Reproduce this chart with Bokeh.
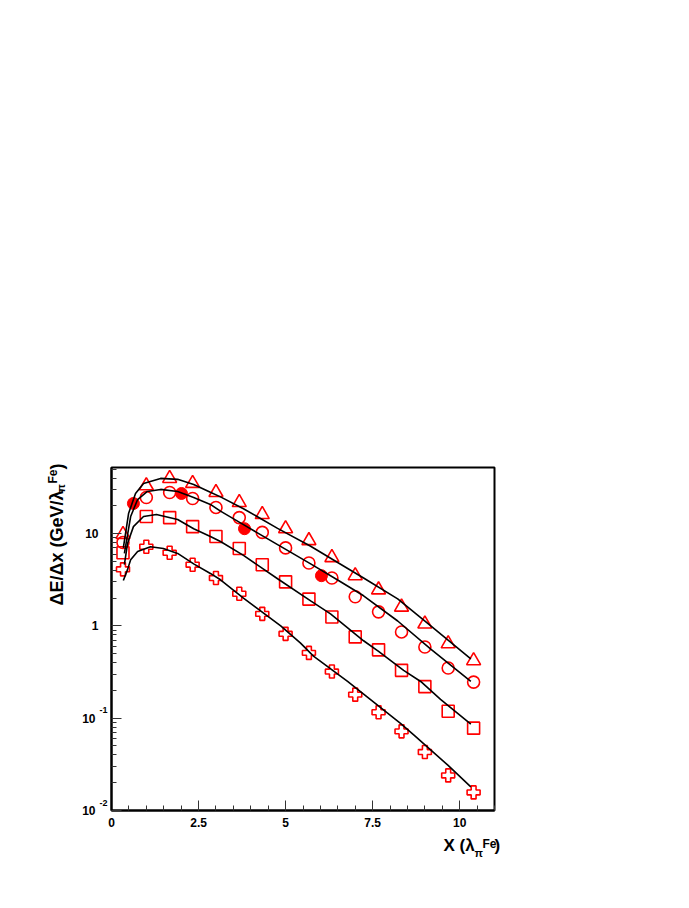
import math
from bokeh.plotting import figure
from bokeh.models import Range1d, FixedTicker, Label
from bokeh.embed import file_html
from bokeh.resources import INLINE

# ---------------- data ----------------
xs = [0.33, 1.0, 1.67, 2.33, 3.0, 3.67, 4.33, 5.0, 5.67, 6.33, 7.0, 7.67, 8.33, 9.0, 9.67, 10.4]
tri = [9.8, 33, 39.6, 35, 27.9, 21.7, 16.1, 11.3, 8.4, 5.5, 3.5, 2.46, 1.6, 1.05, 0.64, 0.42]
circ = [8.0, 24.6, 27.9, 24, 19.2, 14.9, 10.3, 7.0, 4.8, 3.3, 2.07, 1.42, 0.86, 0.59, 0.35, 0.246]
sq = [6.2, 15.3, 14.9, 11.9, 9.3, 6.9, 4.6, 3.0, 1.95, 1.25, 0.76, 0.55, 0.33, 0.22, 0.119, 0.078]
cross = [4.1, 7.2, 6.2, 4.6, 3.3, 2.23, 1.35, 0.82, 0.51, 0.32, 0.18, 0.116, 0.072, 0.043, 0.024, 0.0157]
filled_x = [0.63, 2.01, 3.82, 6.03]
filled_y = [21.2, 27.2, 11.3, 3.5]

fit1_x = [0.34, 0.49, 0.69, 0.92, 1.41, 1.90, 2.36, 2.84, 3.13, 3.79, 4.77, 5.72, 6.52, 7.24, 8.22, 9.17, 10.32]
fit1_y = [7.0, 16.5, 27.2, 34.9, 39.6, 38.7, 34.1, 28.0, 25.0, 18.6, 11.4, 7.3, 4.8, 3.3, 1.96, 1.0, 0.44]
fit2_x = [0.37, 0.55, 0.75, 1.03, 1.41, 1.90, 2.36, 2.84, 3.13, 3.79, 4.77, 5.72, 6.52, 7.24, 8.22, 9.17, 10.32]
fit2_y = [6.1, 15.3, 23.4, 28.6, 30.1, 28.6, 24.6, 20.7, 17.5, 12.5, 7.6, 4.7, 3.1, 2.12, 1.13, 0.56, 0.25]
fit3_x = [0.37, 0.46, 0.63, 0.92, 1.29, 1.90, 2.36, 2.84, 3.13, 3.79, 4.77, 5.72, 6.29, 7.24, 7.67, 8.39, 8.88, 9.45, 10.32]
fit3_y = [4.6, 7.8, 11.9, 15.3, 16.1, 14.2, 11.3, 9.3, 8.2, 5.8, 3.24, 1.87, 1.35, 0.69, 0.53, 0.33, 0.25, 0.16, 0.086]
fit4_x = [0.34, 0.46, 0.55, 0.75, 1.12, 1.49, 1.90, 2.36, 2.84, 3.13, 3.79, 4.86, 5.43, 5.80, 6.78, 7.73, 8.30, 8.68, 9.66, 10.32]
fit4_y = [3.1, 4.07, 5.2, 6.4, 7.2, 6.9, 6.1, 4.7, 3.7, 3.16, 2.0, 1.0, 0.65, 0.47, 0.25, 0.13, 0.088, 0.066, 0.031, 0.018]

x_major = [0, 2.5, 5, 7.5, 10]
x_minor = [0.5 * i for i in range(0, 23)]
y_major = [0.01, 0.1, 1, 10]
y_minor = [m * d for d in [0.01, 0.1, 1, 10] for m in range(2, 10)]
y_tick_base = ["10", "10", "1", "10"]
y_tick_exp = ["-2", "-1", "", ""]

FONT = "Liberation Sans"
RED = "#ff0000"

p = figure(width=689, height=906,
           x_range=Range1d(0, 11), y_range=Range1d(0.01, 52),
           y_axis_type="log", output_backend="svg", toolbar_location=None,
           min_border_left=111, min_border_right=195,
           min_border_top=467, min_border_bottom=96)
p.background_fill_color = "white"
p.border_fill_color = "white"
p.grid.visible = False
p.outline_line_color = "black"
p.outline_line_width = 2
p.outline_line_alpha = 1

xa = p.xaxis[0]
xa.ticker = FixedTicker(ticks=x_major, minor_ticks=x_minor)
xa.axis_line_width = 2
xa.axis_line_color = "black"
xa.major_tick_in = 10
xa.major_tick_out = 0
xa.minor_tick_in = 5
xa.minor_tick_out = 0
xa.major_tick_line_color = "#333333"
xa.minor_tick_line_color = "#333333"
xa.major_label_text_font = FONT
xa.major_label_text_font_style = "bold"
xa.major_label_text_font_size = "12px"
xa.major_label_text_color = "black"
xa.major_label_standoff = 7
xa.major_label_overrides = {0: "0", 2.5: "2.5", 5: "5", 7.5: "7.5", 10: "10"}

ya = p.yaxis[0]
ya.ticker = FixedTicker(ticks=y_major, minor_ticks=y_minor)
ya.axis_line_width = 2
ya.axis_line_color = "black"
ya.major_tick_in = 10
ya.major_tick_out = 0
ya.minor_tick_in = 5
ya.minor_tick_out = 0
ya.major_tick_line_color = "#333333"
ya.minor_tick_line_color = "#333333"
ya.major_label_text_font_size = "12px"
ya.major_label_overrides = {v: "" for v in y_major}


def lab(side, **kw):
    base = dict(text_font=FONT, text_font_style="bold", text_color="black")
    base.update(kw)
    p.add_layout(Label(**base), side)


# y tick labels (base + exponent); side panels are not clipped to the frame
for v, b, e in zip(y_major, y_tick_base, y_tick_exp):
    if e:
        lab("above", x=0, y=v, text=b, x_offset=-16, text_align="right",
            text_baseline="middle", text_font_size="12px")
        lab("above", x=0, y=v, text=e, x_offset=-12, y_offset=8, text_align="left",
            text_baseline="middle", text_font_size="9px")
    else:
        lab("above", x=0, y=v, text=b, x_offset=-13, text_align="right",
            text_baseline="middle", text_font_size="12px")

# markers
p.scatter(xs, tri, marker="triangle", size=14, fill_color=None, line_color=RED, line_width=1.6)
p.scatter(xs, circ, marker="circle", size=12, fill_color=None, line_color=RED, line_width=1.6)
p.scatter(xs, sq, marker="square", size=12, fill_color=None, line_color=RED, line_width=1.6)
p.scatter(xs, cross, marker="plus", size=13, fill_color=None, line_color=RED, line_width=1.6)
p.scatter(filled_x, filled_y, marker="circle", size=12, fill_color=RED, line_color=RED, line_width=1)

# fitted curves
for fx, fy in [(fit1_x, fit1_y), (fit2_x, fit2_y), (fit3_x, fit3_y), (fit4_x, fit4_y)]:
    p.line(fx, fy, line_color="black", line_width=1.6)

# x axis title: X (λ_π^Fe)
XR, YB = 11, 0.01
lab("above", x=XR, y=YB, text="X (λ", x_offset=-51, y_offset=-35, text_align="left",
    text_baseline="alphabetic", text_font_size="17px")
lab("above", x=XR, y=YB, text="π", x_offset=-20, y_offset=-42, text_align="left",
    text_baseline="alphabetic", text_font_size="11px")
lab("above", x=XR, y=YB, text="Fe", x_offset=-12, y_offset=-33, text_align="left",
    text_baseline="alphabetic", text_font_size="12px")
lab("above", x=XR, y=YB, text=")", x_offset=0, y_offset=-35, text_align="left",
    text_baseline="alphabetic", text_font_size="17px")

# y axis title: ΔE/Δx (GeV/λ_π^Fe)
XL, YT = 0, 52
ang = math.pi / 2
lab("right", x=XL, y=YT, text="ΔE/Δx (GeV/λ", x_offset=-55, y_offset=-138, angle=ang,
    text_align="left", text_baseline="alphabetic", text_font_size="18px")
lab("right", x=XL, y=YT, text="π", x_offset=-51, y_offset=-25, angle=ang,
    text_align="left", text_baseline="alphabetic", text_font_size="11px")
lab("right", x=XL, y=YT, text="Fe", x_offset=-59, y_offset=-16, angle=ang,
    text_align="left", text_baseline="alphabetic", text_font_size="12px")
lab("right", x=XL, y=YT, text=")", x_offset=-55, y_offset=-2, angle=ang,
    text_align="left", text_baseline="alphabetic", text_font_size="18px")

open("out.html", "w").write(file_html(p, INLINE))
